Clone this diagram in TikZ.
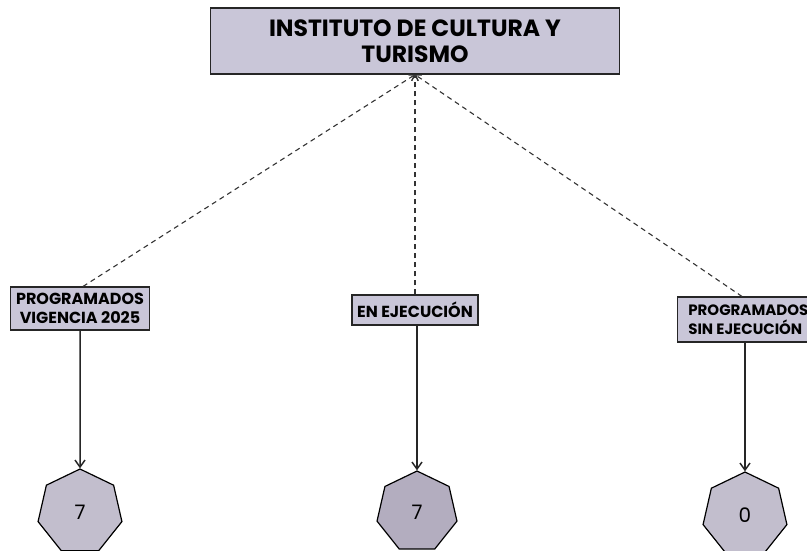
\documentclass[tikz,border=0pt]{standalone}
\usepackage{fontspec}
\setmainfont{Poppins}
\usetikzlibrary{shapes.geometric,arrows.meta}
\definecolor{boxfill}{HTML}{C9C6D8}
\definecolor{hepfill}{HTML}{C2BECD}
\definecolor{hepdark}{HTML}{B3ADBF}
\tikzset{
  titlebox/.style={draw=black!85, line width=1.3pt, fill=boxfill, minimum width=409pt, minimum height=66pt, align=center, inner sep=0pt, font=\fontsize{23.5}{26}\selectfont\bfseries},
  catbox/.style={draw=black!85, line width=1.1pt, fill=boxfill, align=center, inner sep=0pt, font=\fontsize{16}{19.5}\selectfont\bfseries},
  hept/.style={regular polygon, regular polygon sides=7, draw=black, line width=1.2pt, fill=hepfill, minimum size=86pt, inner sep=0pt, font=\fontsize{20}{22}\selectfont},
  link/.style={draw=black!80, line width=1.1pt, dash pattern=on 5pt off 4pt, -{Straight Barb[length=5pt,width=7pt]}},
  down/.style={draw=black!85, line width=1.5pt, -{Straight Barb[length=7pt,width=10pt]}}
}
\begin{document}
\begin{tikzpicture}[x=1pt,y=-1pt]
\useasboundingbox (0,0) rectangle (807,550);
\node[titlebox] (top) at (415,41) {INSTITUTO DE CULTURA Y\\TURISMO};
\node[catbox, minimum width=139pt, minimum height=43pt] (p1) at (80,308.5) {PROGRAMADOS\\VIGENCIA 2025};
\node[catbox, minimum width=126pt, minimum height=30pt] (p2) at (415,310) {EN EJECUCIÓN};
\node[catbox, minimum width=140pt, minimum height=45pt, anchor=west, font=\fontsize{15}{19.5}\selectfont\bfseries] (p3) at (677,319.5) {\hspace*{1.5pt}PROGRAMADOS\hfill\null\\\hspace*{1.5pt}SIN EJECUCIÓN\hfill\null};
\node[hept] (h1) at (80,512) {7};
\node[hept, fill=hepdark, minimum size=82pt] (h2) at (417,512) {7};
\node[hept] (h3) at (745,515) {0};
\draw[link] (p1.north -| 83,0) -- (top.south);
\draw[link] (p2.north) -- (top.south);
\draw[link] (p3.north -| 742,0) -- (top.south);
\draw[down] (p1.south) -- (h1.north);
\draw[down] (p2.south -| h2.north) -- (h2.north);
\draw[down] (p3.south -| h3.north) -- (h3.north);
\end{tikzpicture}
\end{document}
